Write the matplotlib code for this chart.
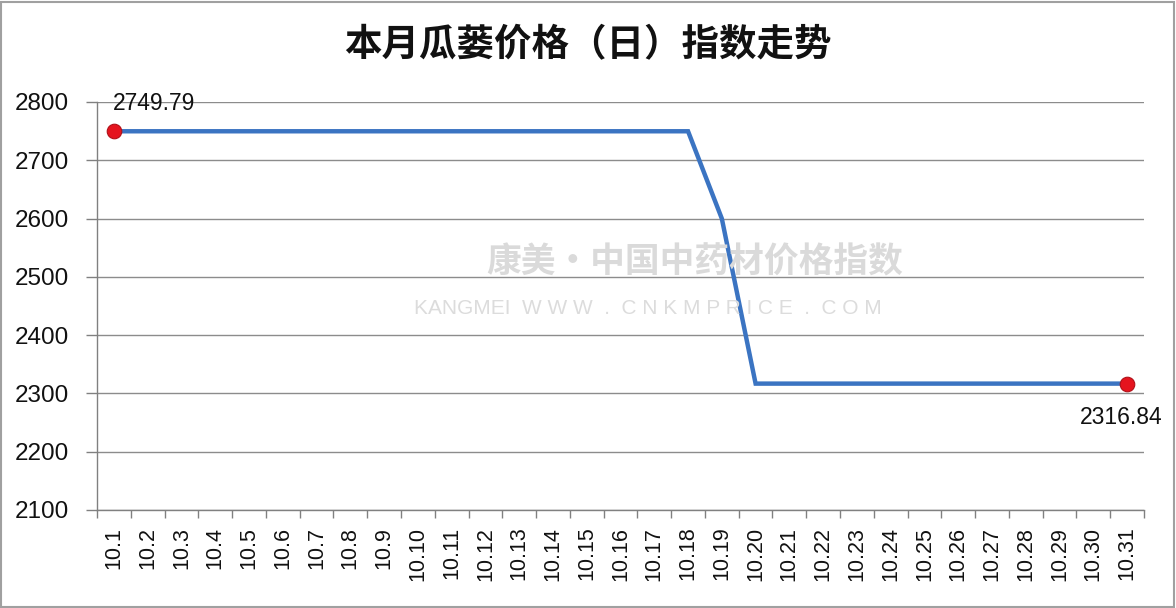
import matplotlib
matplotlib.use("Agg")
import matplotlib.pyplot as plt
from matplotlib.patches import Rectangle

plt.rcParams['font.family'] = ['Liberation Sans', 'Noto Sans CJK SC', 'DejaVu Sans']

title = "本月瓜蒌价格（日）指数走势"
categories = [f"10.{d}" for d in range(1, 32)]
values = [2749.79] * 18 + [2600.0] + [2316.84] * 12
y_ticks = [2100, 2200, 2300, 2400, 2500, 2600, 2700, 2800]

W, H = 1176, 608
fig = plt.figure(figsize=(W / 100, H / 100), dpi=100)
ax = fig.add_axes([97 / W, 1 - 510 / H, (1144 - 97) / W, (510 - 102) / H])

x = list(range(len(categories)))
ax.plot(x, values, color="#3b74c2", lw=3.2, solid_joinstyle="miter", zorder=3)
ax.scatter([x[0], x[-1]], [values[0], values[-1]], s=110, color="#e5141e",
           edgecolor="#b01018", linewidth=0.8, zorder=4)
ax.annotate(f"{values[0]:.2f}", (x[0], values[0]), xytext=(-1, 12),
            textcoords="offset points", fontsize=16.5, ha="left", va="bottom",
            color="#111111")
ax.annotate(f"{values[-1]:.2f}", (x[-1], values[-1]), xytext=(-4, -16),
            textcoords="offset points", fontsize=16.5, ha="center", va="top",
            color="#111111")

ax.set_xlim(-0.5, len(categories) - 0.5)
ax.set_ylim(2100, 2800)
ax.set_yticks(y_ticks)
ax.set_yticklabels([str(v) for v in y_ticks], fontsize=17.5, color="#111111")
ax.tick_params(axis="y", length=8, width=1, color="#808080", pad=12)
ax.set_xticks(x)
ax.set_xticklabels(categories, rotation=90, fontsize=15.5, color="#111111")
ax.set_xticks([i - 0.5 for i in range(len(categories) + 1)], minor=True)
ax.tick_params(axis="x", which="major", length=0, pad=12)
ax.tick_params(axis="x", which="minor", length=6, width=1, color="#808080")
ax.grid(axis="y", color="#8c8c8c", lw=1)
ax.set_axisbelow(True)
for s in ["top", "right"]:
    ax.spines[s].set_visible(False)
for s in ["left", "bottom"]:
    ax.spines[s].set_color("#808080")
    ax.spines[s].set_linewidth(1)

# watermark
fig.text(695 / W, 1 - 262 / H, "康美·中国中药材价格指数", fontsize=25, color="#dadada",
         ha="center", va="center", fontweight="bold", zorder=0,
         family=['Noto Sans CJK SC', 'DejaVu Sans'])
fig.text(648 / W, 1 - 308 / H, "KANGMEI  W W W  .  C N K M P R I C E  .  C O M", fontsize=15,
         color="#dcdcdc", ha="center", va="center", zorder=0)

fig.text(588 / W, 1 - 45 / H, title, fontsize=27, fontweight="bold", ha="center",
         va="center", color="#111111", family=['Noto Sans CJK SC', 'DejaVu Sans'])

fig.patches.append(Rectangle((1 / W, 1 / H), 1 - 3 / W, 1 - 3 / H, transform=fig.transFigure,
                             fill=False, edgecolor="#a0a0a0", lw=1.5))

fig.savefig("out.png", dpi=100)
